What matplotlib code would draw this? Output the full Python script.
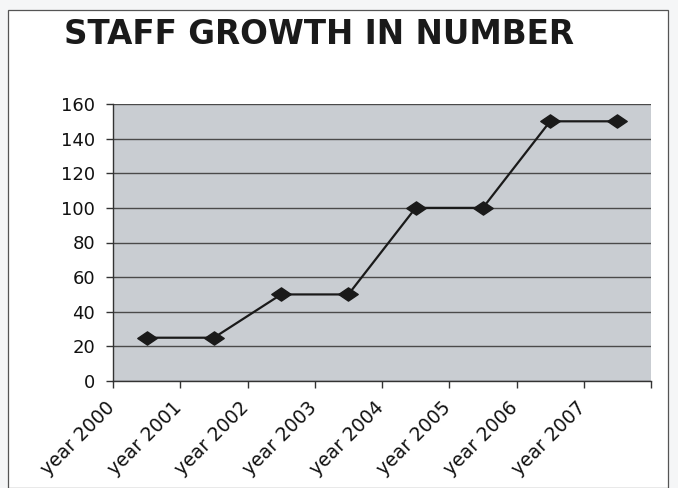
import matplotlib
matplotlib.use("Agg")
import matplotlib.pyplot as plt
import matplotlib.transforms as mtransforms
from matplotlib.patches import Rectangle
from matplotlib.path import Path

years = ["year 2000", "year 2001", "year 2002", "year 2003",
         "year 2004", "year 2005", "year 2006", "year 2007"]
staff = [25, 25, 50, 50, 100, 100, 150, 150]
y_ticks = [0, 20, 40, 60, 80, 100, 120, 140, 160]

plt.rcParams['font.family'] = ['DejaVu Sans']

fig = plt.figure(figsize=(6.78, 4.88), dpi=100)
fig.patch.set_facecolor('#f5f6f7')

# chart frame
fig.patches.append(Rectangle((8 / 678, 0), 660 / 678, 1 - 10 / 488,
                             transform=fig.transFigure, facecolor='white',
                             edgecolor='#555555', linewidth=0.9, zorder=-5))

ax = fig.add_axes([113 / 678, 1 - 381 / 488, 538 / 678, 277 / 488])
ax.set_zorder(2)
ax.set_facecolor('#c9cdd2')

flat_diamond = Path([(-1, 0), (0, 0.68), (1, 0), (0, -0.68), (-1, 0)],
                    [Path.MOVETO, Path.LINETO, Path.LINETO, Path.LINETO, Path.CLOSEPOLY])

xs = [i + 0.5 for i in range(len(years))]
ax.plot(xs, staff, color='#1a1a1a', linewidth=1.6, marker=flat_diamond,
        markersize=14, markerfacecolor='#1a1a1a', markeredgecolor='#1a1a1a', zorder=3)

ax.set_xlim(0, len(years))
ax.set_ylim(0, 160)
ax.set_yticks(y_ticks)
ax.yaxis.grid(True, color='#4a4a4a', linewidth=1.0)
ax.set_axisbelow(True)

ax.set_xticks(range(len(years) + 1))
ax.set_xticklabels(years + [''], rotation=45, ha='right', va='top',
                   rotation_mode='anchor', fontsize=13.5, color='#111111')
ax.tick_params(axis='y', labelsize=13, labelcolor='#111111', length=5, width=1,
               color='#333333', pad=8)
ax.tick_params(axis='x', length=5, width=1, color='#333333', pad=7)

# nudge the rotated labels left so their ends sit at the ticks
shift = mtransforms.ScaledTranslation(-8 / 100, 0, fig.dpi_scale_trans)
for lbl in ax.get_xticklabels():
    lbl.set_transform(lbl.get_transform() + shift)

for s in ['top', 'right']:
    ax.spines[s].set_visible(False)
for s in ['left', 'bottom']:
    ax.spines[s].set_color('#333333')
    ax.spines[s].set_linewidth(1.0)

fig.text(319 / 678, 1 - 35 / 488, 'STAFF GROWTH IN NUMBER', ha='center', va='center',
         fontsize=23.5, fontweight='bold', color='#1a1a1a')

fig.savefig('out.png', dpi=100, facecolor=fig.get_facecolor())
